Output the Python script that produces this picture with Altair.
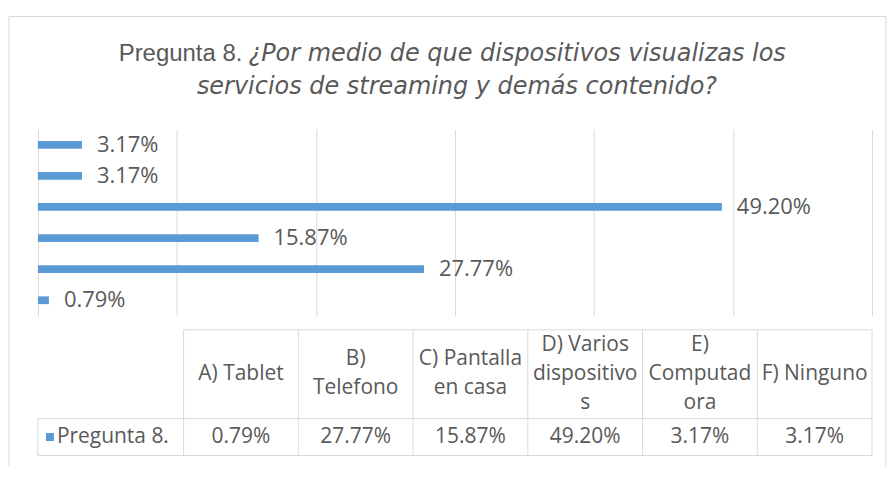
import altair as alt
import pandas as pd

# ---- data ----
categories = ["A) Tablet", "B) Telefono", "C) Pantalla en casa",
              "D) Varios dispositivos", "E) Computadora", "F) Ninguno"]
header_labels = ["A) Tablet", "B)\nTelefono", "C) Pantalla\nen casa",
                 "D) Varios\ndispositivo\ns", "E)\nComputad\nora", "F) Ninguno"]
values = [0.0079, 0.2777, 0.1587, 0.4920, 0.0317, 0.0317]
value_labels = ["0.79%", "27.77%", "15.87%", "49.20%", "3.17%", "3.17%"]
series_name = "Pregunta 8."
title_plain = "Pregunta 8."
title_italic_1 = "¿Por medio de que dispositivos visualizas los"
title_italic_2 = "servicios de streaming y demás contenido?"

BLUE = "#5B9BD5"
TXT = "#595959"
GRID = "#D9D9D9"
FONT = "Open Sans"
TFONT = "DejaVu Sans"
TFONT_PLAIN = "Liberation Sans"

W = 836
H_BARS = 187
H_TAB = 126
LINE_H = 29

df = pd.DataFrame({"cat": categories, "val": values, "label": value_labels})

y_enc = alt.Y("cat:N", sort=list(reversed(categories)), axis=None,
              scale=alt.Scale(paddingInner=0.75, paddingOuter=0.375))
x_enc = alt.X("val:Q", scale=alt.Scale(domain=[0, 0.6], nice=False),
              axis=alt.Axis(values=[0, 0.1, 0.2, 0.3, 0.4, 0.5, 0.6], labels=False,
                            ticks=False, domain=False, grid=True, gridColor=GRID,
                            gridWidth=1, title=None))

bars = alt.Chart(df).mark_bar(color=BLUE).encode(x=x_enc, y=y_enc)
bar_text = alt.Chart(df).mark_text(align="left", baseline="middle", dx=15,
                                   font=FONT, fontSize=22, color=TXT).encode(
    x="val:Q", y=alt.Y("cat:N", sort=list(reversed(categories))), text="label:N")

one = pd.DataFrame({"k": [0]})
t1a = alt.Chart(one).mark_text(align="right", baseline="middle", font=TFONT_PLAIN,
                               fontSize=24, color=TXT, text=title_plain).encode(
    x=alt.value(205), y=alt.value(-75))
t1b = alt.Chart(one).mark_text(align="left", baseline="middle", font=TFONT,
                               fontSize=24, fontStyle="italic", color=TXT,
                               text=title_italic_1).encode(
    x=alt.value(211), y=alt.value(-75))
t2 = alt.Chart(one).mark_text(align="center", baseline="middle", font=TFONT,
                              fontSize=24, fontStyle="italic", color=TXT,
                              text=title_italic_2).encode(
    x=alt.value(420), y=alt.value(-42))

frame_top = alt.Chart(one).mark_rule(color=GRID, strokeWidth=1).encode(
    x=alt.value(-29), x2=alt.value(850), y=alt.value(-113))
frame_left = alt.Chart(one).mark_rule(color=GRID, strokeWidth=1).encode(
    x=alt.value(-29), y=alt.value(-113), y2=alt.value(338))
frame_right = alt.Chart(one).mark_rule(color=GRID, strokeWidth=1).encode(
    x=alt.value(850), y=alt.value(-113), y2=alt.value(338))

top = alt.layer(frame_top, frame_left, frame_right, bars, bar_text, t1a, t1b, t2).properties(
    width=W, height=H_BARS)

# ---- data table under the chart ----
n = len(categories)
unit = 37.0  # px of one table row unit
lab_w = 146 / 115.0
y_top = H_TAB / unit
xs = alt.Scale(domain=[-lab_w, n], nice=False, zero=False)
ys = alt.Scale(domain=[0, y_top], nice=False, zero=False)

segs = []
segs.append({"x": 0, "x2": n, "y": y_top, "y2": y_top})
segs.append({"x": -lab_w, "x2": n, "y": 1, "y2": 1})
segs.append({"x": -lab_w, "x2": n, "y": 0, "y2": 0})
for i in range(n + 1):
    segs.append({"x": i, "x2": i, "y": 0, "y2": y_top})
segs.append({"x": -lab_w, "x2": -lab_w, "y": 0, "y2": 1})
seg_df = pd.DataFrame(segs)

grid = alt.Chart(seg_df).mark_rule(color=GRID, strokeWidth=1).encode(
    x=alt.X("x:Q", scale=xs, axis=None), x2="x2:Q",
    y=alt.Y("y:Q", scale=ys, axis=None), y2="y2:Q")

head_center = 1 + 45 / unit
hy = [head_center + (h.count("\n")) * (LINE_H / 2) / unit for h in header_labels]
tab_df = pd.DataFrame({"pos": [i + 0.5 for i in range(n)],
                       "head": header_labels, "label": value_labels,
                       "hy": hy, "vy": [0.5] * n})
head_text = alt.Chart(tab_df).mark_text(align="center", baseline="middle", lineBreak="\n",
                                        lineHeight=LINE_H, font=FONT, fontSize=21, color=TXT).encode(
    x=alt.X("pos:Q", scale=xs, axis=None), y=alt.Y("hy:Q", scale=ys, axis=None), text="head:N")
val_text = alt.Chart(tab_df).mark_text(align="center", baseline="middle",
                                       font=FONT, fontSize=21, color=TXT).encode(
    x=alt.X("pos:Q", scale=xs, axis=None), y=alt.Y("vy:Q", scale=ys, axis=None), text="label:N")

leg_df = pd.DataFrame({"name": [series_name], "vy": [0.5]})
leg_sq = alt.Chart(leg_df).mark_square(color=BLUE, size=64, opacity=1).encode(
    x=alt.value(12), y=alt.Y("vy:Q", scale=ys, axis=None))
leg_txt = alt.Chart(leg_df).mark_text(align="left", baseline="middle", font=FONT,
                                      fontSize=21, color=TXT).encode(
    x=alt.value(19), y=alt.Y("vy:Q", scale=ys, axis=None), text="name:N")

table = alt.layer(grid, head_text, val_text, leg_sq, leg_txt).properties(width=W, height=H_TAB)

chart = alt.vconcat(top, table, spacing=14, bounds="flush").properties(
    padding={"left": 0, "top": 7, "right": 0, "bottom": 0},
    background="white"
).configure_view(stroke=None)

chart.save("out.html", embed_options={"renderer": "svg", "actions": False})
